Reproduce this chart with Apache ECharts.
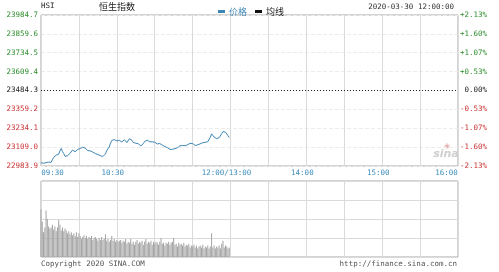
<!DOCTYPE html>
<html><head><meta charset="utf-8">
<script src="https://cdn.jsdelivr.net/npm/echarts@6/dist/echarts.min.js"></script>
<style>html,body{margin:0;padding:0;background:#fff}#c{width:499px;height:272px}</style>
</head><body><div id="c"></div>
<script>
const symbolName = 'HSI';
const chartTitle = '恒生指数';
const dateTime = '2020-03-30 12:00:00';
const legendNames = ['价格', '均线'];
const timeTickLabels = ['09:30', '10:30', '12:00/13:00', '14:00', '15:00', '16:00'];
const priceTickLabels = ['22983.9', '23109.0', '23234.1', '23359.2', '23484.3', '23609.4', '23734.5', '23859.6', '23984.7'];
const pctTickLabels = ['-2.13%', '-1.60%', '-1.07%', '-0.53%', '0.00%', '+0.53%', '+1.07%', '+1.60%', '+2.13%'];
const priceMin = 22983.9;
const priceStep = 125.1;
const prevClose = 23484.3;
const copyrightText = 'Copyright 2020 SINA.COM';
const urlText = 'http://finance.sina.com.cn';

// one value per minute from 09:30
const prices = [
23006,23004,23002,23001,23006,23012,23010,23007,23008,23025,
23041,23050,23056,23045,23062,23085,23100,23080,23066,23048,
23041,23052,23058,23068,23076,23090,23086,23078,23085,23093,
23096,23100,23104,23108,23111,23102,23095,23086,23078,23084,
23089,23076,23063,23066,23061,23060,23056,23052,23049,23047,
23045,23064,23086,23098,23110,23135,23153,23157,23159,23154,
23150,23152,23154,23148,23143,23150,23158,23147,23139,23152,
23165,23160,23154,23140,23128,23135,23143,23131,23119,23117,
23126,23132,23146,23157,23155,23150,23145,23139,23144,23150,
23142,23137,23130,23126,23133,23139,23122,23111,23113,23115,
23106,23100,23094,23089,23094,23100,23099,23100,23105,23110,
23118,23126,23120,23115,23118,23121,23125,23128,23134,23139,
23133,23128,23120,23115,23124,23132,23131,23132,23138,23143,
23141,23139,23145,23150,23175,23197,23186,23176,23170,23165,
23168,23172,23185,23198,23212,23220,23208,23198,23185,23172
];
const volumes = [
2.5,1.85,1.3,1.55,2.45,2.0,1.6,1.5,1.55,1.7,
1.45,1.6,1.35,1.55,1.95,1.7,1.4,1.55,1.35,1.5,
1.4,1.25,1.35,1.2,1.3,1.15,1.25,1.1,1.3,1.05,
1.25,1.1,0.95,1.05,1.15,1.0,1.1,0.95,1.05,1.0,
1.1,0.9,1.0,1.05,0.95,0.85,1.0,0.9,1.05,0.9,
0.95,1.2,0.85,0.95,0.8,0.9,1.1,0.85,0.95,0.8,
0.9,0.8,0.85,0.9,0.75,0.85,0.8,0.95,0.7,0.8,
0.75,0.95,0.7,0.8,0.65,0.8,0.9,0.7,0.8,0.75,
0.85,0.65,0.8,0.95,0.7,0.8,0.75,0.85,0.65,0.8,
0.7,0.8,0.75,0.65,0.8,1.0,0.7,0.75,0.6,0.75,
0.7,0.8,0.65,0.75,0.8,1.0,0.65,0.7,0.55,0.75,
0.65,0.7,0.6,0.75,0.55,0.65,0.6,0.7,0.5,0.6,
0.55,0.65,0.5,0.6,0.45,0.55,0.6,0.5,0.65,0.45,
0.55,0.5,0.6,0.45,0.55,1.25,0.5,0.6,0.45,0.55,
0.5,0.6,0.45,0.7,0.85,0.5,0.6,0.55,0.45,0.5
];

function pad(n) { return (n < 10 ? '0' : '') + n; }
const categories = [];
for (let i = 0; i <= 330; i++) {
  if (i === 150) { categories.push('12:00/13:00'); continue; }
  const t = i < 150 ? 570 + i : 780 + (i - 150);
  categories.push(pad(Math.floor(t / 60)) + ':' + pad(t % 60));
}
const priceOffsets = prices.map(p => +(p - priceMin).toFixed(1));
const priceMax = +(priceStep * 8).toFixed(1);

const mono = 'DejaVu Sans Mono';
const cjk = 'Noto Sans CJK SC';
const lineColor = '#3d86b4';
const timeColor = '#3a8cbc';
const upColor = '#2f8f2f';
const downColor = '#cc3333';
const midColor = '#222';

function levelColor(v) {
  const k = Math.round(Number(v) / priceStep);
  return k > 4 ? upColor : (k < 4 ? downColor : midColor);
}

const chart = echarts.init(document.getElementById('c'), null, { renderer: 'canvas' });
chart.setOption({
  animation: false,
  backgroundColor: '#fff',
  legend: {
    left: 213, top: 2,
    icon: 'rect', itemWidth: 7, itemHeight: 3, itemGap: 8,
    textStyle: { fontSize: 9, fontFamily: cjk, padding: [0, 0, 0, -1] },
    data: [
      { name: legendNames[0], textStyle: { color: lineColor } },
      { name: legendNames[1], textStyle: { color: '#222' } }
    ]
  },
  grid: [
    { left: 41, top: 15, width: 417, height: 151, show: true, borderColor: '#a8a8a8', borderWidth: 1, backgroundColor: 'transparent' },
    { left: 41, top: 181, width: 417, height: 76, show: true, borderColor: '#a8a8a8', borderWidth: 1, backgroundColor: 'transparent' }
  ],
  xAxis: [
    {
      gridIndex: 0, type: 'category', data: categories, boundaryGap: false,
      axisLine: { show: false }, axisTick: { show: false },
      axisLabel: {
        interval: (i, v) => timeTickLabels.indexOf(v) >= 0,
        margin: 3, fontFamily: mono, fontSize: 7.5, color: timeColor,
        formatter: (v) => {
          const k = timeTickLabels.indexOf(v);
          if (k === 0) return '{l|' + v + '}';
          if (k === timeTickLabels.length - 1) return '{r|' + v + '}';
          return '{m|' + v + '}';
        },
        rich: {
          l: { padding: [0, 0, 0, 23], fontFamily: mono, fontSize: 7.5, color: timeColor },
          r: { padding: [0, 23, 0, 0], fontFamily: mono, fontSize: 7.5, color: timeColor },
          m: { padding: [0, 8, 0, 0], fontFamily: mono, fontSize: 7.5, color: timeColor }
        }
      },
      splitLine: { show: true, interval: (i) => i % 30 === 0, lineStyle: { color: '#dadada', width: 1 } }
    },
    {
      gridIndex: 1, type: 'category', data: categories, boundaryGap: false,
      axisLine: { show: false }, axisTick: { show: false }, axisLabel: { show: false },
      splitLine: { show: true, interval: (i) => i % 30 === 0, lineStyle: { color: '#dadada', width: 1 } }
    }
  ],
  yAxis: [
    {
      gridIndex: 0, type: 'value', position: 'left', min: 0, max: priceMax, interval: priceStep,
      axisLine: { show: false }, axisTick: { show: false },
      axisLabel: {
        margin: 3, fontFamily: mono, fontSize: 7.5, padding: [0, 0, 3, 0],
        formatter: (v) => priceTickLabels[Math.round(v / priceStep)],
        color: (v) => levelColor(v)
      },
      splitLine: { show: true, lineStyle: { color: '#ececec', type: 'dashed', width: 1 } }
    },
    {
      gridIndex: 0, type: 'value', position: 'right', min: 0, max: priceMax, interval: priceStep,
      axisLine: { show: false }, axisTick: { show: false }, splitLine: { show: false },
      axisLabel: {
        align: 'right', margin: 29, fontFamily: mono, fontSize: 7.5, padding: [0, 0, 3, 0],
        formatter: (v) => pctTickLabels[Math.round(v / priceStep)],
        color: (v) => levelColor(v)
      }
    },
    {
      gridIndex: 1, type: 'value', min: 0, max: 4, interval: 1,
      axisLine: { show: false }, axisTick: { show: false }, axisLabel: { show: false },
      splitLine: { show: true, lineStyle: { color: '#dadada', width: 1 } }
    }
  ],
  series: [
    {
      name: legendNames[0], type: 'line', xAxisIndex: 0, yAxisIndex: 0,
      data: priceOffsets, showSymbol: false, symbol: 'none', color: lineColor,
      lineStyle: { width: 1, color: lineColor },
      markLine: {
        silent: true, symbol: 'none', label: { show: false },
        lineStyle: { color: '#222', type: [1, 2], width: 1 },
        data: [{ yAxis: +(prevClose - priceMin).toFixed(1) }]
      }
    },
    { name: legendNames[1], type: 'line', xAxisIndex: 0, yAxisIndex: 0, data: [], color: '#111' },
    {
      name: '成交量', type: 'bar', xAxisIndex: 1, yAxisIndex: 2,
      data: volumes, barWidth: 1, itemStyle: { color: '#a3a3a3' }
    }
  ],
  graphic: [
    { type: 'text', x: 41, y: 6, style: { text: symbolName, font: '7.5px "' + mono + '"', fill: '#222', verticalAlign: 'middle' } },
    { type: 'text', x: 99, y: 7, style: { text: chartTitle, font: '9px "' + cjk + '"', fill: '#222', verticalAlign: 'middle' } },
    { type: 'text', x: 454, y: 7, style: { text: dateTime, font: '7.5px "' + mono + '"', fill: '#333', align: 'right', verticalAlign: 'middle' } },
    { type: 'text', x: 41, y: 264, style: { text: copyrightText, font: '7.5px "' + mono + '"', fill: '#555', verticalAlign: 'middle' } },
    { type: 'text', x: 457, y: 264, style: { text: urlText, font: '7.5px "' + mono + '"', fill: '#555', align: 'right', verticalAlign: 'middle' } },
    { type: 'text', x: 446, y: 154, style: { text: 'sina', font: 'italic bold 11px "DejaVu Sans"', fill: '#cfcfcf', align: 'center', verticalAlign: 'middle' } },
    { type: 'text', x: 447, y: 146, style: { text: '◉', font: '7px "DejaVu Sans"', fill: '#e6b0b0', align: 'center', verticalAlign: 'middle' } }
  ]
});
</script>
</body></html>
